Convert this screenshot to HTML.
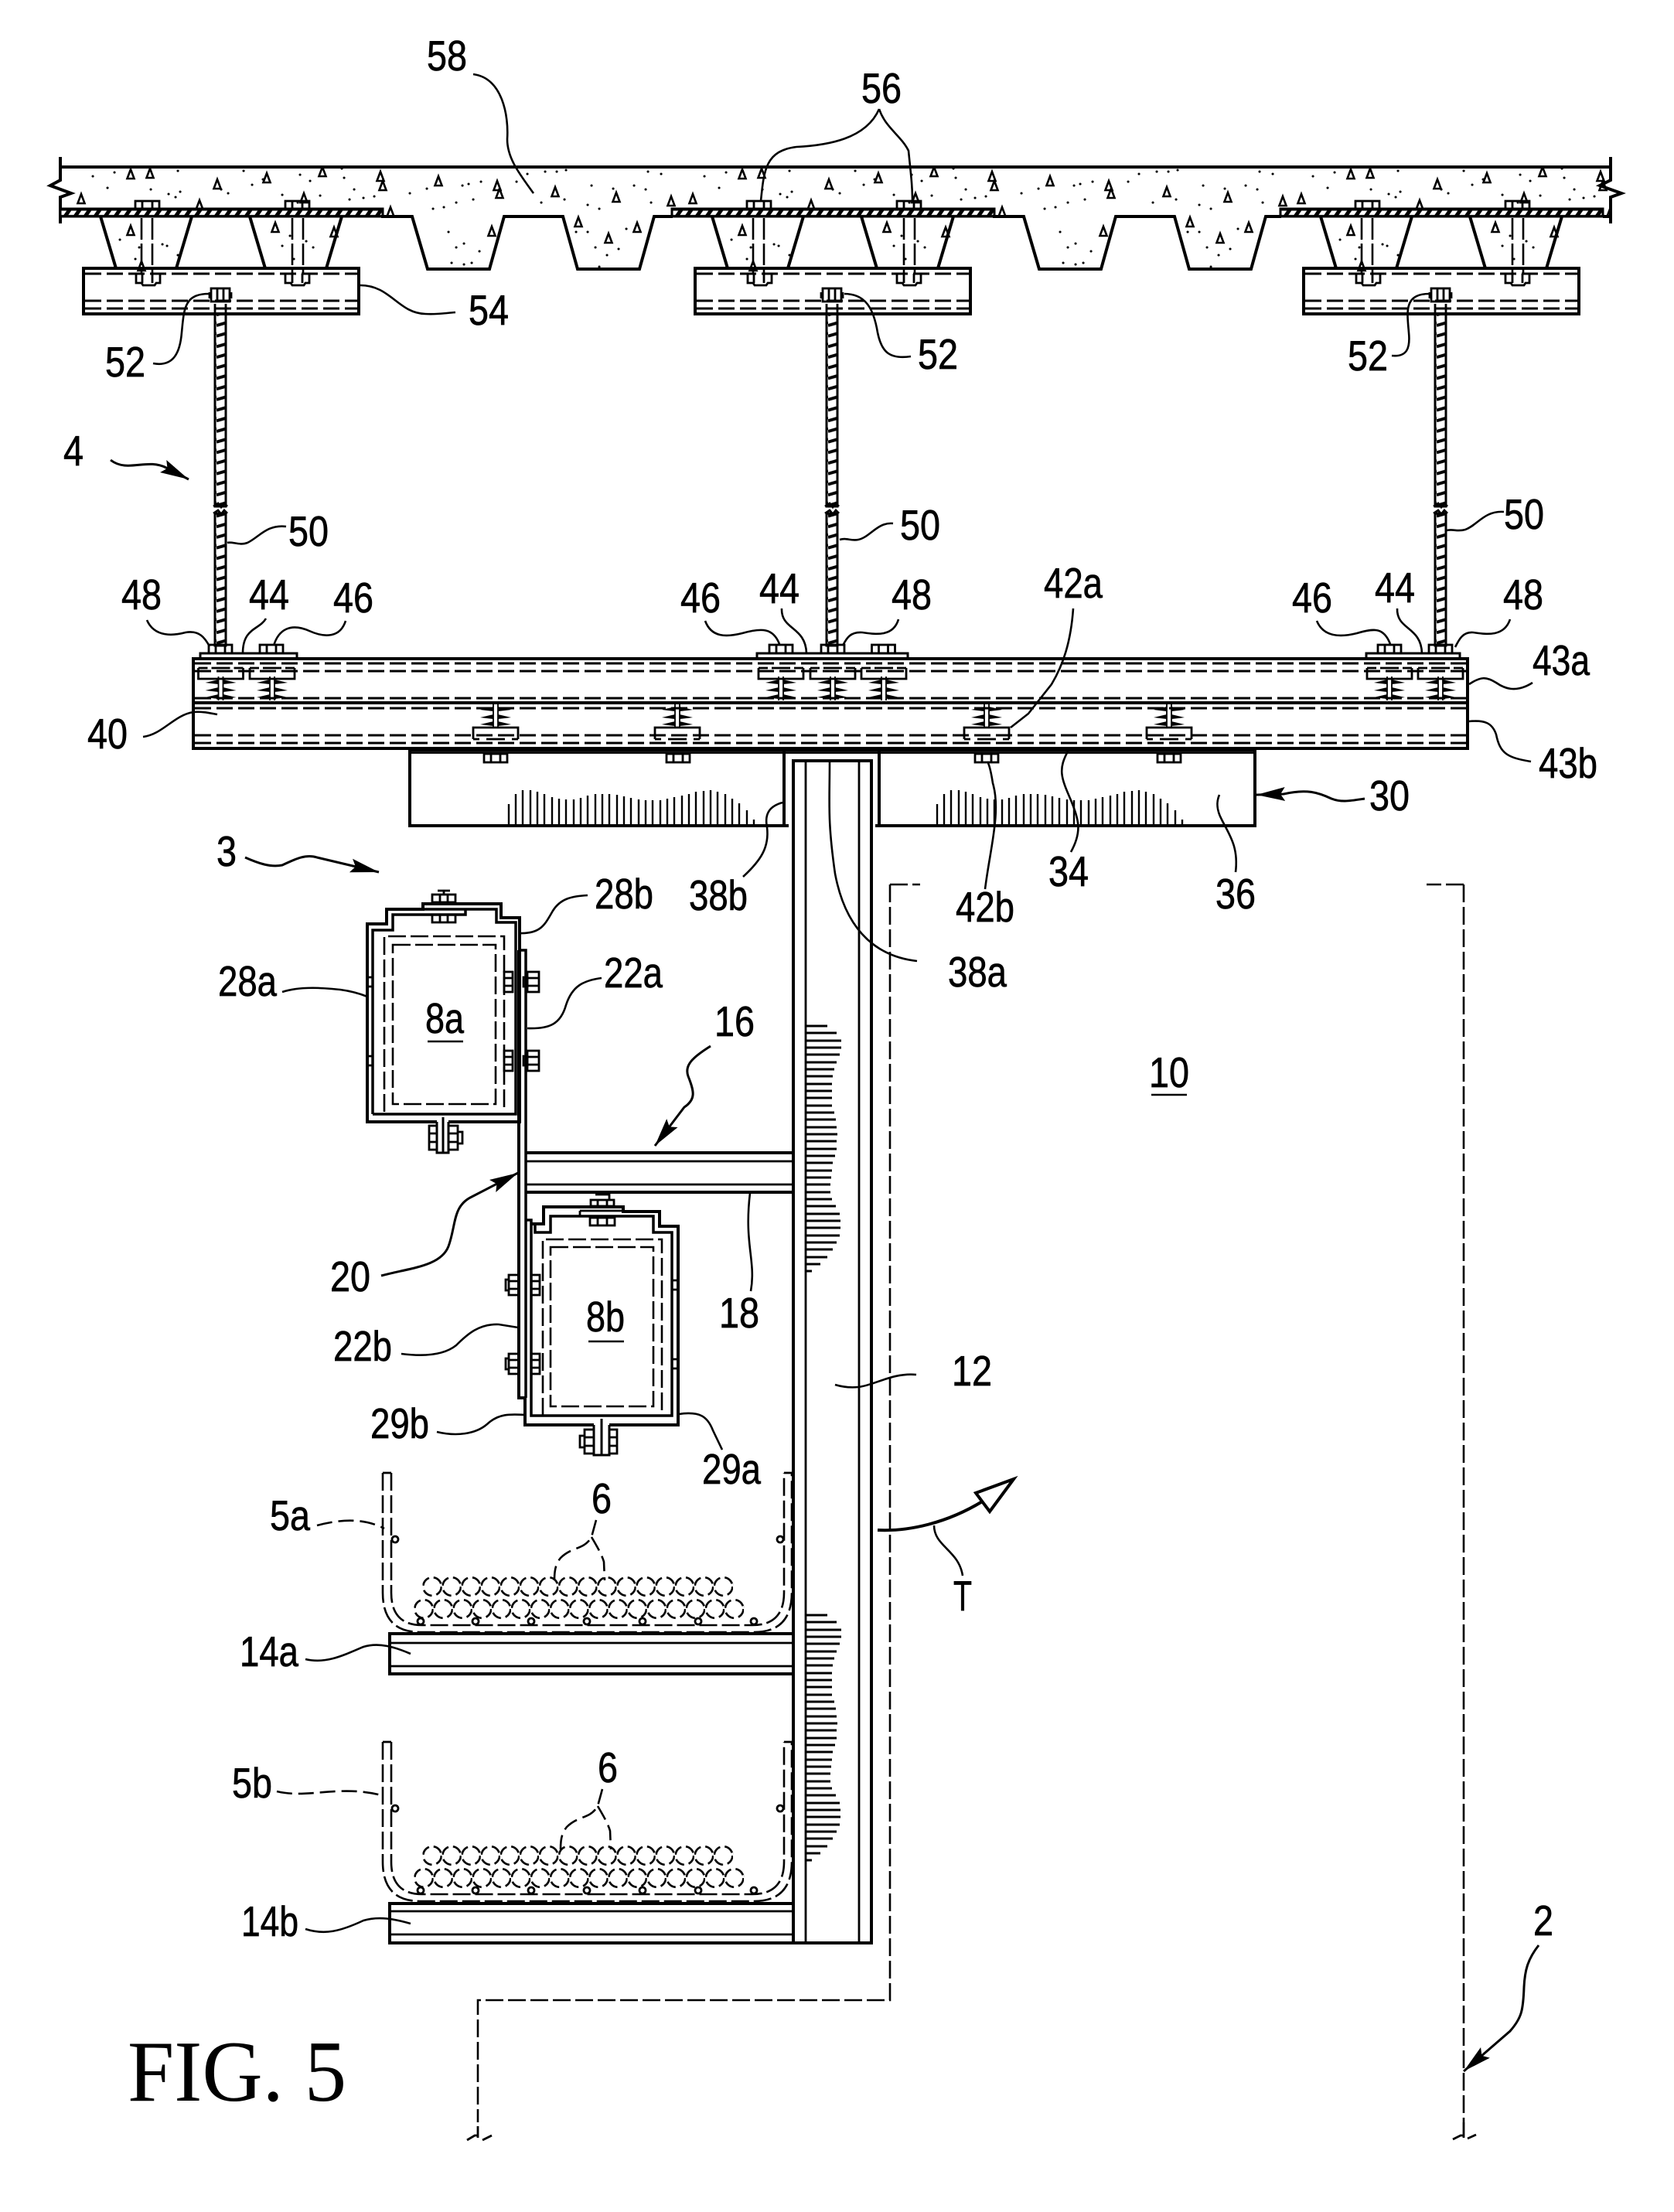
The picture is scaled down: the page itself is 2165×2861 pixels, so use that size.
<!DOCTYPE html>
<html><head><meta charset="utf-8"><style>
html,body{margin:0;padding:0;background:#fff}
svg{display:block}
text{font-family:"Liberation Sans",sans-serif;font-size:55px;fill:#000;text-anchor:middle;stroke:#000;stroke-width:.7}
.a{fill:none;stroke:#000;stroke-width:4}
.b{fill:none;stroke:#000;stroke-width:2.8}
.d{fill:none;stroke:#000;stroke-width:3;stroke-dasharray:21 7}
.l{fill:none;stroke:#000;stroke-width:2.6}
.ld{fill:none;stroke:#000;stroke-width:2.6;stroke-dasharray:20 8}
.w{fill:none;stroke:#000;stroke-width:2.6;stroke-dasharray:23 6}
.h{fill:none;stroke:#000;stroke-width:2.4}
.hh{fill:none;stroke:#000;stroke-width:3}
.s{fill:none;stroke:#000;stroke-width:3;stroke-linecap:round}
</style></head><body>
<svg width="2165" height="2861" viewBox="0 0 2165 2861" xmlns="http://www.w3.org/2000/svg">
<defs>
<clipPath id="sl"><rect x="80" y="218" width="2002" height="135"/></clipPath>
<pattern id="ph" width="13" height="20" patternUnits="userSpaceOnUse" patternTransform="translate(0,270) skewX(-35)"><rect width="13" height="20" fill="#000"/><rect x="3" y="2.500" width="7" height="5.500" fill="#fff"/></pattern>
<pattern id="th" width="14" height="13.700" patternUnits="userSpaceOnUse"><path d="M0 10L14 6" stroke="#000" stroke-width="4"/></pattern>
<pattern id="cb" width="25.1" height="28" patternUnits="userSpaceOnUse"><circle cx="12.55" cy="13" r="11.8" fill="none" stroke="#000" stroke-width="2.6" stroke-dasharray="13 6"/></pattern>
<pattern id="cb1" href="#cb" patternTransform="translate(546.5,2039)"/>
<pattern id="cb2" href="#cb" patternTransform="translate(535.5,2068)"/>
<marker id="ar" markerUnits="userSpaceOnUse" markerWidth="40" markerHeight="24" refX="37" refY="10" orient="auto"><path d="M0 1L37 10L0 19L6 10Z" fill="#000"/></marker>
<g id="tri"><path d="M0 0l-4.500 12h9z" class="l" style="stroke-width:2.6"/></g>
<g id="spr">
<path d="M-20 1L-3-3V3ZM-20 11L-3 7V13ZM-20 20L-3 16V22ZM20 1L3-3V3ZM20 11L3 7V13ZM20 20L3 16V22Z" fill="#000"/>
<path d="M-3-7V24M3-7V24" class="b" style="stroke-width:1.800"/>
</g>
<g id="nv"><rect x="-15" y="0" width="30" height="11" class="b"/><path d="M-6 0v11M6 0v11" class="b"/></g>
<g id="brU"><path d="M-29 1h12M-12 1h24M17 1h12" class="b"/><path d="M-29 1v14h58V1" class="b"/><use href="#spr" y="19"/></g>
<g id="brL"><use href="#spr" y="-24"/><path d="M-29 15V0h58v15" class="b"/><path d="M-29 15h8M-12 15h24M21 15h8" class="b"/></g>
<g id="nhL"><rect x="-7" y="-13" width="15" height="26" class="b"/><path d="M-7-5H8M-7 5H8" class="b"/><rect x="-12" y="-6" width="5" height="12" class="b"/></g>
<g id="specks">
<use href="#tri" x="169" y="219"/><use href="#tri" x="194" y="218"/><use href="#tri" x="281" y="232"/><use href="#tri" x="345" y="224"/><use href="#tri" x="417" y="216"/><use href="#tri" x="492" y="222"/><use href="#tri" x="495" y="234"/><use href="#tri" x="567" y="228"/><use href="#tri" x="643" y="234"/><use href="#tri" x="646" y="244"/><use href="#tri" x="718" y="242"/><use href="#tri" x="797" y="249"/><use href="#tri" x="868" y="254"/><use href="#tri" x="105" y="251"/><use href="#tri" x="258" y="259"/><use href="#tri" x="393" y="250"/><use href="#tri" x="169" y="292"/><use href="#tri" x="356" y="288"/><use href="#tri" x="432" y="294"/><use href="#tri" x="505" y="268"/><use href="#tri" x="636" y="293"/><use href="#tri" x="748" y="281"/><use href="#tri" x="824" y="288"/><use href="#tri" x="787" y="302"/><use href="#tri" x="183" y="338"/>
<path class="s" d="M120 228h.1M148 223h.1M139 243h.1M195 245h.1M230 221h.1M218 251h.1M227 255h.1M233 248h.1M286 245h.1M315 221h.1M326 239h.1M340 232h.1M295 250h.1M365 252h.1M385 262h.1M414 253h.1M452 258h.1M470 256h.1M484 254h.1M445 230h.1M401 234h.1M388 226h.1M442 218h.1M458 245h.1M530 250h.1M552 244h.1M598 240h.1M606 238h.1M622 235h.1M590 262h.1M612 258h.1M574 268h.1M560 270h.1M668 235h.1M682 225h.1M705 222h.1M720 222h.1M732 220h.1M700 262h.1M730 258h.1M765 240h.1M793 244h.1M820 240h.1M835 245h.1M842 262h.1M760 265h.1M775 270h.1M838 222h.1M855 225h.1M180 320h.1M175 335h.1M210 316h.1M216 318h.1M155 310h.1M230 330h.1M375 305h.1M396 312h.1M405 320h.1M365 318h.1M380 335h.1M590 320h.1M580 300h.1M600 315h.1M620 325h.1M610 340h.1M584 340h.1M600 342h.1M760 300h.1M770 320h.1M785 330h.1M800 322h.1M775 345h.1M810 296h.1M745 300h.1"/>
</g>
<g id="set">
<rect x="78" y="270" width="417" height="10" fill="url(#ph)" stroke="#000" stroke-width="3"/>
<path class="a" d="M130 280L150 347M248 280L228 347M323 280L343 347M442 280L422 347"/>
<path d="M183 282V354M197 282V354M378 282V354M392 282V354" class="d" style="stroke-dasharray:28 5;stroke-width:2.6"/>
<rect x="175" y="260" width="31" height="10" class="b"/><path d="M184 260v10M197 260v10" class="b"/>
<rect x="369" y="260" width="31" height="10" class="b"/><path d="M378 260v10M391 260v10" class="b"/>
<rect x="108" y="347" width="356" height="59" class="a" fill="#fff"/>
<path d="M110 354H462M110 389H462M110 399H462" class="d"/>
<path d="M176 354v12h7l2 3h15l2-3h5v-12M184 354v12M197 354v12" class="b"/>
<path d="M369 354v12h7l2 3h15l2-3h5v-12M378 354v12M391 354v12" class="b"/>
<rect x="278" y="406" width="14" height="249" fill="url(#th)" stroke="#000" stroke-width="3"/>
<rect x="278" y="664" width="14" height="171" fill="url(#th)" stroke="#000" stroke-width="3"/>
<path d="M278 393v13M292 393v13" class="b"/>
<path d="M276 655l6-4 4 5 4-5 4 4M276 664l6-4 4 5 4-5 4 4" class="b"/>
<rect x="273" y="373" width="24" height="17" fill="#fff" class="b"/><path d="M281 373v17M289 373v17M271 378v8M299 378v8" class="b"/>
</g>
<g id="hz"><path class="h" d="M658 1068V1040M667 1068V1027M676 1068V1022M686 1068V1022M695 1068V1024M704 1068V1027M714 1068V1031M723 1068V1033M732 1068V1034M742 1068V1034M751 1068V1032M760 1068V1029M770 1068V1027M779 1068V1027M788 1068V1027M798 1068V1028M807 1068V1030M816 1068V1032M826 1068V1034M835 1068V1035M844 1068V1035M854 1068V1035M863 1068V1033M872 1068V1031M882 1068V1029M891 1068V1027M900 1068V1024M910 1068V1023M919 1068V1022M928 1068V1024M938 1068V1027M947 1068V1033M956 1068V1039M966 1068V1048M975 1068V1060"/></g>
<g id="hc"><path class="hh" d="M1041 2089H1070M1041 2098H1082M1041 2108H1088M1041 2117H1088M1041 2126H1086M1041 2136H1082M1041 2145H1079M1041 2154H1077M1041 2164H1076M1041 2173H1076M1041 2182H1076M1041 2192H1076M1041 2201H1079M1041 2210H1081M1041 2220H1082M1041 2229H1083M1041 2238H1082M1041 2248H1082M1041 2257H1080M1041 2266H1077M1041 2276H1076M1041 2285H1075M1041 2294H1074M1041 2304H1074M1041 2313H1076M1041 2322H1081M1041 2332H1086M1041 2341H1087M1041 2350H1087M1041 2360H1086M1041 2369H1082M1041 2378H1077M1041 2388H1070M1041 2397H1061M1041 2406H1050"/></g>
<g id="tray">
<path class="w" d="M495 1905V2060Q495 2111 543 2111H975Q1024 2111 1024 2060V1905"/>
<path class="w" d="M506 1905V2060Q506 2102 546 2102H973Q1014 2102 1014 2060V1905"/>
<path class="b" d="M495 1905H506M1014 1905H1024"/>
<circle cx="511" cy="1991" r="4" class="b"/><circle cx="1009" cy="1991" r="4" class="b"/>
<g><circle cx="544" cy="2097" r="4" class="b"/><circle cx="615" cy="2097" r="4" class="b"/><circle cx="687" cy="2097" r="4" class="b"/><circle cx="759" cy="2097" r="4" class="b"/><circle cx="831" cy="2097" r="4" class="b"/><circle cx="903" cy="2097" r="4" class="b"/><circle cx="975" cy="2097" r="4" class="b"/></g>
<rect x="546.5" y="2039" width="401.6" height="27" fill="url(#cb1)"/>
<rect x="535.5" y="2068" width="426.7" height="27" fill="url(#cb2)"/>
</g>
</defs>

<!-- slab -->
<path class="a" d="M78 216H2083"/>
<path class="a" d="M78 203V233L65 240L92 250L78 255V289"/>
<path class="a" d="M2083 203V233L2069 240L2097 250L2083 255V289"/>
<g clip-path="url(#sl)"><use href="#specks"/><use href="#specks" x="791"/><use href="#specks" x="1578"/></g>
<use href="#set"/><use href="#set" x="791"/><use href="#set" x="1578"/>
<path class="a" d="M493 280H533L553 348H633L652 280H728L747 348H827L846 280H870"/>
<path class="a" d="M1284 280H1324L1344 348H1424L1443 280H1519L1538 348H1618L1637 280H1657"/>
<path class="a" d="M2073 280H2083"/>

<!-- main channels -->
<rect x="530" y="970" width="1093" height="98" class="a"/>
<path class="b" d="M530 973.500H1623"/>
<use href="#hz"/><use href="#hz" x="554"/>
<rect x="250" y="852" width="1648" height="116" class="a" fill="#fff"/>
<path class="a" d="M250 909H1898"/>
<path class="d" d="M252 858H1896M252 868H1896M252 903H1896M252 916H1896M252 951H1896M252 961H1896"/>
<path class="a" d="M259 851V845H384V851M979 851V845H1174V851M1767 851V845H1888V851" style="stroke-width:3"/>
<use href="#nv" x="285" y="834"/><use href="#nv" x="351" y="834"/>
<use href="#nv" x="1010" y="834"/><use href="#nv" x="1077" y="834"/><use href="#nv" x="1142.500" y="834"/>
<use href="#nv" x="1797" y="834"/><use href="#nv" x="1863" y="834"/>
<use href="#brU" x="285.500" y="863"/><use href="#brU" x="352" y="863"/>
<use href="#brU" x="1010" y="863"/><use href="#brU" x="1077" y="863"/><use href="#brU" x="1143" y="863"/>
<use href="#brU" x="1797" y="863"/><use href="#brU" x="1863" y="863"/>
<use href="#brL" x="641" y="941"/><use href="#brL" x="876" y="941"/><use href="#brL" x="1276" y="941"/><use href="#brL" x="1512" y="941"/>
<use href="#nv" x="641" y="975"/><use href="#nv" x="877" y="975"/><use href="#nv" x="1276" y="975"/><use href="#nv" x="1512" y="975"/>
<path class="a" d="M1014 972V1069M1137 972V1069"/>
<rect x="1020" y="1066" width="112" height="5" fill="#fff" stroke="none"/>

<!-- column -->
<rect x="1026" y="984" width="101" height="1529" class="a"/>
<path class="b" d="M1042 986V2513M1111 986V2513"/>
<use href="#hc"/><use href="#hc" y="-762"/>

<!-- walls -->
<path class="w" d="M1151 1144H1190M1151 1144V2587H618V2745"/>
<path class="w" d="M1893 1144H1845M1893 1144V2745"/>
<path class="b" d="M604 2768l10-6h3M618 2750V2765M624 2768l12-6M1879 2767l10-5h3M1893 2745V2765M1898 2766l11-5"/>

<!-- strut -->
<path class="a" d="M672 1229H680V1808" style="stroke-width:3.5"/>
<path class="a" d="M671 1229V1808H680"/>
<!-- 16 -->
<path class="a" d="M680 1491H1026M680 1542H1026"/>
<path class="b" d="M680 1502H1026M680 1532H1026"/>

<!-- box 8a -->
<path class="a" d="M565 1451H475V1195H500V1176H547V1169H648V1187H672V1451H580"/>
<path class="a" d="M482 1441V1203H508V1183H602V1176H547M602 1176H642V1193H667V1441H482" style="stroke-width:3.5"/>
<path class="w" d="M497 1438V1211H652V1438"/>
<path class="w" d="M508 1222H641V1428H508Z"/>
<path class="a" d="M565 1451V1491H580V1451M573 1445V1491" style="stroke-width:3"/>
<rect x="555" y="1456" width="10" height="31" class="b"/><path d="M555 1466h10M555 1477h10" class="b"/>
<rect x="580" y="1456" width="12" height="31" class="b"/><path d="M580 1466h12M580 1477h12M592 1464h6v15h-6" class="b"/>
<rect x="559" y="1157" width="30" height="10" class="b"/><path d="M569 1157v10M579 1157v10" class="b"/>
<rect x="559" y="1183" width="30" height="10" class="b"/><path d="M569 1183v10M579 1183v10" class="b"/>
<path class="b" d="M574 1152v5M566 1152h16"/>
<use href="#nhL" x="689" y="1270"/><use href="#nhL" x="689" y="1372"/>
<g><rect x="652" y="1257" width="11" height="26" class="b"/><path d="M652 1265h11M652 1275h11" class="b"/><rect x="652" y="1359" width="11" height="26" class="b"/><path d="M652 1367h11M652 1377h11" class="b"/></g>
<path class="b" d="M475 1264H482M475 1276H482M475 1366H482M475 1378H482"/>

<!-- box 8b -->
<path class="a" d="M768 1843H679V1808M687 1583H703V1561H806V1567H853V1586H877V1843H788"/>
<path class="a" d="M680 1578H687V1831H869V1594H845V1573H712V1594H692V1584" style="stroke-width:3.5"/>
<path class="b" d="M750 1566H806V1561M750 1566V1573"/>
<path class="w" d="M702 1831V1603H856V1831"/>
<path class="w" d="M712 1613H845V1819H712Z"/>
<path class="a" d="M768 1843V1882H788V1843M778 1835V1882" style="stroke-width:3"/>
<rect x="756" y="1849" width="12" height="31" class="b"/><path d="M756 1859h12M756 1870h12M756 1857h-6v15h6" class="b"/>
<rect x="788" y="1849" width="10" height="31" class="b"/><path d="M788 1859h10M788 1870h10" class="b"/>
<rect x="764" y="1552" width="30" height="8" class="b"/><path d="M773 1552v8M785 1552v8M770 1545h18v7" class="b"/>
<rect x="763" y="1575" width="32" height="10" class="b"/><path d="M773 1575v10M785 1575v10" class="b"/>
<g><rect x="658" y="1649" width="13" height="26" class="b"/><path d="M658 1657h13M658 1667h13M658 1655h-4v14h4" class="b"/><rect x="658" y="1751" width="13" height="26" class="b"/><path d="M658 1759h13M658 1769h13M658 1757h-4v14h4" class="b"/>
<rect x="687" y="1649" width="11" height="26" class="b"/><path d="M687 1657h11M687 1667h11" class="b"/><rect x="687" y="1751" width="11" height="26" class="b"/><path d="M687 1759h11M687 1769h11" class="b"/></g>
<path class="b" d="M869 1656H877M869 1668H877M869 1758H877M869 1770H877"/>

<!-- trays -->
<use href="#tray"/><use href="#tray" transform="translate(0,348)"/>
<rect x="504" y="2113" width="522" height="52" class="a"/><path class="b" d="M504 2125H1026M504 2155H1026"/>
<rect x="504" y="2462" width="522" height="51" class="a"/><path class="b" d="M504 2472H1026M504 2502H1026"/>

<!-- leaders -->
<g class="l">
<path d="M612 96C650 101 658 150 656 180C656 205 672 225 690 250"/>
<path d="M984 260C988 220 990 195 1030 190C1070 188 1120 180 1137 141"/>
<path d="M1137 141C1145 165 1165 175 1175 195C1178 225 1180 240 1180 260"/>
<path d="M466 369C505 369 515 405 550 406C565 407 575 405 589 404"/>
<path d="M198 470C225 475 233 455 235 430C238 400 238 380 270 380"/>
<path d="M1178 461C1150 465 1140 455 1135 430C1130 400 1120 380 1092 380"/>
<path d="M1800 460C1820 462 1824 450 1822 430C1820 405 1815 380 1848 380"/>
<path d="M370 681C345 678 335 695 320 702C310 706 300 700 294 702"/>
<path d="M1155 677C1135 675 1125 695 1110 698C1100 700 1095 695 1086 698"/>
<path d="M1945 662C1920 660 1910 680 1895 685C1885 688 1880 684 1871 686"/>
<path d="M190 802C200 825 225 822 240 818C258 815 265 825 271 836"/>
<path d="M344 800C335 815 314 812 314 845"/>
<path d="M447 803C440 825 420 825 400 816C375 805 360 815 354 835"/>
<path d="M912 803C920 825 940 824 960 819C985 812 1000 812 1008 833"/>
<path d="M1011 787C1010 815 1042 810 1043 845"/>
<path d="M1162 801C1155 825 1130 820 1115 818C1100 817 1095 825 1090 835"/>
<path d="M1703 803C1712 825 1735 824 1755 819C1778 812 1790 812 1798 833"/>
<path d="M1807 787C1806 815 1838 810 1839 845"/>
<path d="M1953 801C1945 825 1920 820 1905 818C1892 817 1887 827 1882 837"/>
<path d="M1388 787C1385 830 1375 860 1360 885L1330 923L1307 941"/>
<path d="M1274 1150C1280 1100 1295 1050 1284 1013C1282 1000 1280 990 1277 985"/>
<path d="M1385 1102C1400 1075 1395 1060 1385 1035C1372 1005 1368 995 1382 970"/>
<path d="M1598 1128C1602 1095 1590 1080 1580 1060C1572 1045 1574 1035 1577 1028"/>
<path d="M961 1134C985 1112 995 1095 992 1070C988 1050 998 1042 1012 1038"/>
<path d="M1186 1243C1140 1238 1095 1210 1080 1130C1070 1060 1073 1040 1073 985"/>
<path d="M1982 883C1960 897 1945 890 1935 883C1922 875 1915 875 1900 885"/>
<path d="M1980 985C1950 980 1940 975 1935 950C1930 935 1920 931 1900 933"/>
<path d="M185 953C210 950 225 925 250 921C262 920 270 922 281 924"/>
<path d="M672 1207C700 1208 705 1195 715 1178C725 1162 740 1159 760 1158"/>
<path d="M682 1330C710 1331 725 1325 732 1300C740 1275 755 1268 778 1265"/>
<path d="M365 1283C390 1275 420 1278 440 1280C455 1282 465 1285 475 1289"/>
<path d="M971 1670C978 1630 962 1610 970 1543"/>
<path d="M519 1751C550 1755 575 1752 590 1740C605 1725 620 1712 645 1713L670 1717"/>
<path d="M565 1852C590 1858 615 1855 630 1842C645 1828 660 1829 679 1830"/>
<path d="M878 1829C905 1825 915 1832 922 1850L934 1875"/>
<path d="M1185 1778C1155 1775 1130 1792 1110 1794C1100 1795 1090 1794 1080 1791"/>
<path d="M395 2146C420 2152 440 2143 470 2130C490 2124 510 2130 531 2139"/>
<path d="M395 2495C420 2503 440 2498 470 2484C490 2478 510 2482 531 2488"/>
<path d="M1208 1973C1208 2000 1240 2005 1245 2038"/>
</g>
<g class="ld">
<path d="M410 1973C440 1965 470 1963 497 1977"/>
<path d="M358 2317C400 2327 440 2307 497 2323"/>
<path d="M771 1966L765 1988C755 2005 740 2000 725 2015C717 2025 717 2035 717 2044M765 1988C772 2000 778 2010 781 2020L782 2044"/>
<path d="M779 2314L773 2336C763 2353 748 2348 733 2363C725 2373 725 2383 725 2392M773 2336C780 2348 786 2358 789 2368L790 2392"/>
</g>
<!-- arrows -->
<g class="l" style="stroke-width:3">
<path d="M143 595C165 612 190 592 215 605L244 620" marker-end="url(#ar)"/>
<path d="M317 1109C335 1117 350 1122 365 1119C380 1112 395 1104 410 1109L490 1128" marker-end="url(#ar)"/>
<path d="M919 1353C895 1368 885 1378 890 1392C898 1412 900 1422 885 1432L847 1482" marker-end="url(#ar)"/>
<path d="M493 1650C530 1640 570 1638 580 1612C590 1585 585 1560 610 1548L670 1517" marker-end="url(#ar)"/>
<path d="M1990 2516C1975 2535 1972 2550 1971 2570C1970 2600 1968 2610 1953 2627L1893 2679" marker-end="url(#ar)"/>
<path d="M1765 1033C1745 1036 1735 1038 1722 1033C1705 1025 1690 1020 1660 1027L1625 1028" marker-end="url(#ar)"/>
<path d="M1135 1979C1175 1981 1225 1970 1272 1941" style="stroke-width:4"/>
</g>
<path d="M1311 1913L1262 1931L1280 1955Z" fill="#fff" stroke="#000" stroke-width="4"/>
<!-- labels -->
<text x="578" y="91" textLength="52" lengthAdjust="spacingAndGlyphs">58</text>
<text x="1140" y="133" textLength="52" lengthAdjust="spacingAndGlyphs">56</text>
<text x="632" y="420" textLength="52" lengthAdjust="spacingAndGlyphs">54</text>
<text x="162" y="487" textLength="52" lengthAdjust="spacingAndGlyphs">52</text>
<text x="1213" y="477" textLength="52" lengthAdjust="spacingAndGlyphs">52</text>
<text x="1769" y="479" textLength="52" lengthAdjust="spacingAndGlyphs">52</text>
<text x="95" y="602" textLength="26" lengthAdjust="spacingAndGlyphs">4</text>
<text x="399" y="706" textLength="52" lengthAdjust="spacingAndGlyphs">50</text>
<text x="1190" y="698" textLength="52" lengthAdjust="spacingAndGlyphs">50</text>
<text x="1971" y="684" textLength="52" lengthAdjust="spacingAndGlyphs">50</text>
<text x="183" y="788" textLength="52" lengthAdjust="spacingAndGlyphs">48</text>
<text x="348" y="788" textLength="52" lengthAdjust="spacingAndGlyphs">44</text>
<text x="457" y="792" textLength="52" lengthAdjust="spacingAndGlyphs">46</text>
<text x="906" y="792" textLength="52" lengthAdjust="spacingAndGlyphs">46</text>
<text x="1008" y="780" textLength="52" lengthAdjust="spacingAndGlyphs">44</text>
<text x="1179" y="788" textLength="52" lengthAdjust="spacingAndGlyphs">48</text>
<text x="1697" y="792" textLength="52" lengthAdjust="spacingAndGlyphs">46</text>
<text x="1804" y="779" textLength="52" lengthAdjust="spacingAndGlyphs">44</text>
<text x="1970" y="788" textLength="52" lengthAdjust="spacingAndGlyphs">48</text>
<text x="1388" y="773" textLength="76" lengthAdjust="spacingAndGlyphs">42a</text>
<text x="2019" y="873" textLength="74" lengthAdjust="spacingAndGlyphs">43a</text>
<text x="2028" y="1006" textLength="76" lengthAdjust="spacingAndGlyphs">43b</text>
<text x="139" y="968" textLength="52" lengthAdjust="spacingAndGlyphs">40</text>
<text x="1797" y="1048" textLength="52" lengthAdjust="spacingAndGlyphs">30</text>
<text x="1598" y="1175" textLength="52" lengthAdjust="spacingAndGlyphs">36</text>
<text x="1382" y="1146" textLength="52" lengthAdjust="spacingAndGlyphs">34</text>
<text x="1274" y="1192" textLength="76" lengthAdjust="spacingAndGlyphs">42b</text>
<text x="929" y="1177" textLength="76" lengthAdjust="spacingAndGlyphs">38b</text>
<text x="1264" y="1276" textLength="76" lengthAdjust="spacingAndGlyphs">38a</text>
<text x="293" y="1120" textLength="26" lengthAdjust="spacingAndGlyphs">3</text>
<text x="807" y="1175" textLength="76" lengthAdjust="spacingAndGlyphs">28b</text>
<text x="819" y="1277" textLength="76" lengthAdjust="spacingAndGlyphs">22a</text>
<text x="320" y="1288" textLength="76" lengthAdjust="spacingAndGlyphs">28a</text>
<text x="575" y="1336" textLength="50" lengthAdjust="spacingAndGlyphs">8a</text>
<path class="l" d="M553 1347H599M761 1735H807M1489 1416H1535"/>
<text x="950" y="1340" textLength="52" lengthAdjust="spacingAndGlyphs">16</text>
<text x="1512" y="1406" textLength="52" lengthAdjust="spacingAndGlyphs">10</text>
<text x="956" y="1717" textLength="52" lengthAdjust="spacingAndGlyphs">18</text>
<text x="453" y="1670" textLength="52" lengthAdjust="spacingAndGlyphs">20</text>
<text x="469" y="1760" textLength="76" lengthAdjust="spacingAndGlyphs">22b</text>
<text x="783" y="1722" textLength="50" lengthAdjust="spacingAndGlyphs">8b</text>
<text x="517" y="1860" textLength="76" lengthAdjust="spacingAndGlyphs">29b</text>
<text x="946" y="1919" textLength="76" lengthAdjust="spacingAndGlyphs">29a</text>
<text x="778" y="1957" textLength="26" lengthAdjust="spacingAndGlyphs">6</text>
<text x="786" y="2305" textLength="26" lengthAdjust="spacingAndGlyphs">6</text>
<text x="1257" y="1792" textLength="52" lengthAdjust="spacingAndGlyphs">12</text>
<text x="375" y="1979" textLength="52" lengthAdjust="spacingAndGlyphs">5a</text>
<text x="326" y="2325" textLength="52" lengthAdjust="spacingAndGlyphs">5b</text>
<text x="1245" y="2083" textLength="24" lengthAdjust="spacingAndGlyphs">T</text>
<text x="348" y="2155" textLength="76" lengthAdjust="spacingAndGlyphs">14a</text>
<text x="349" y="2504" textLength="74" lengthAdjust="spacingAndGlyphs">14b</text>
<text x="1996" y="2503" textLength="26" lengthAdjust="spacingAndGlyphs">2</text>
<text x="165" y="2717" textLength="283" lengthAdjust="spacingAndGlyphs" style="font-family:'Liberation Serif',serif;font-size:112px;text-anchor:start;stroke:none">FIG. 5</text>
</svg>
</body></html>
